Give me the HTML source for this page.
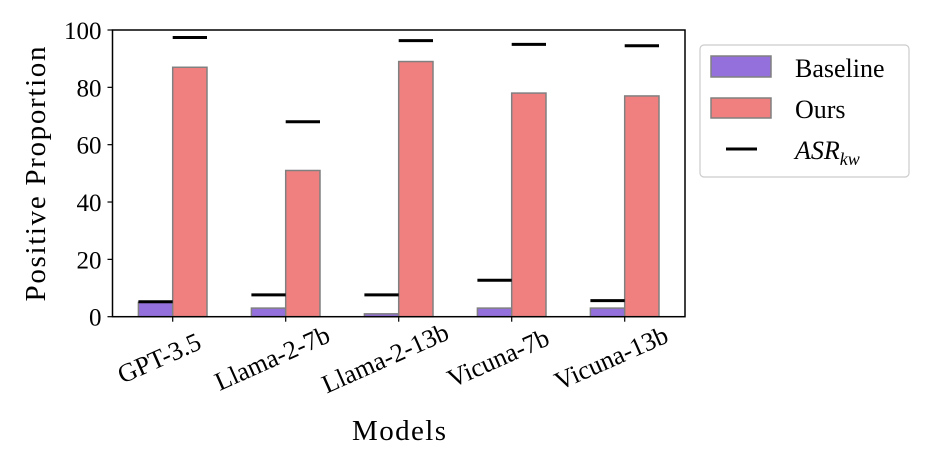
<!DOCTYPE html>
<html><head><meta charset="utf-8"><style>
html,body{margin:0;padding:0;background:#fff;}
svg{display:block;font-family:"Liberation Serif","DejaVu Serif",serif;}
</style></head><body>
<svg id="chart" width="930" height="465" viewBox="0 0 930 465">
<g id="plot"></g>
<g id="legend">
  <rect x="700" y="45" width="209" height="132" rx="4" fill="#fff" stroke="#ccc" stroke-width="1.2"/>
  <rect x="711" y="56" width="60" height="21" fill="#9370db" stroke="#808080" stroke-width="1.5"/>
  <text x="795" y="77" font-size="26">Baseline</text>
  <rect x="711" y="98" width="60" height="20" fill="#f08080" stroke="#808080" stroke-width="1.5"/>
  <text x="795" y="118" font-size="26">Ours</text>
  <line x1="726" y1="149" x2="757" y2="149" stroke="#000" stroke-width="3"/>
  <text x="795" y="159" font-size="26" font-style="italic">ASR<tspan font-size="18" dy="6">kw</tspan></text>
</g>
</svg>
<script>
const categories = ["GPT-3.5","Llama-2-7b","Llama-2-13b","Vicuna-7b","Vicuna-13b"];
const baselineValues = [5, 3, 1, 3, 3];
const oursValues = [87, 51, 89, 78, 77];
const baselineAsr = [5.2, 7.6, 7.6, 12.7, 5.6];
const oursAsr = [97.4, 68, 96.3, 95, 94.5];
const yTicks = [0, 20, 40, 60, 80, 100];

const NS = "http://www.w3.org/2000/svg";
const L = 112.5, R = 685, T = 30, B = 316.7;
const step = 113, x0 = 172.7, bw = 34.3;
const xPos = i => x0 + i * step;
const yPos = v => B - (v / 100) * (B - T);
const g = document.getElementById("plot");
function mk(tag, attrs, parent) {
  const e = document.createElementNS(NS, tag);
  for (const k in attrs) e.setAttribute(k, attrs[k]);
  (parent || g).appendChild(e);
  return e;
}
categories.forEach((c, i) => {
  const xc = xPos(i);
  let r = mk("rect", {x: xc - bw, y: yPos(baselineValues[i]), width: bw, height: B - yPos(baselineValues[i]), fill: "#9370db", stroke: "#808080", "stroke-width": 1.5});
  
  
  r = mk("rect", {x: xc, y: yPos(oursValues[i]), width: bw, height: B - yPos(oursValues[i]), fill: "#f08080", stroke: "#808080", "stroke-width": 1.5});
  
  
  let m = mk("line", {x1: xc - bw, x2: xc, y1: yPos(baselineAsr[i]), y2: yPos(baselineAsr[i]), stroke: "#000", "stroke-width": 3});
  
  
  m = mk("line", {x1: xc, x2: xc + bw, y1: yPos(oursAsr[i]), y2: yPos(oursAsr[i]), stroke: "#000", "stroke-width": 3});
  
  
  const t = mk("line", {x1: xc, x2: xc, y1: B, y2: B + 5, stroke: "#000", "stroke-width": 1.2});
  
  
  const lx = xc - 10, ly = 366;
  const tx = mk("text", {x: lx, y: ly, "font-size": 26, "text-anchor": "middle", transform: `rotate(-24 ${lx} ${ly})`});
  tx.textContent = c;
  
  
});
yTicks.forEach(v => {
  const y = yPos(v);
  const t = mk("line", {x1: L - 5, x2: L, y1: y, y2: y, stroke: "#000", "stroke-width": 1.2});
  
  
  const tx = mk("text", {x: L - 11, y: y + 9, "font-size": 25, "text-anchor": "end"});
  tx.textContent = v;
  
  
});
const ax = mk("rect", {x: L, y: T, width: R - L, height: B - T, fill: "none", stroke: "#000", "stroke-width": 1.5});


const yl = mk("text", {x: 0, y: 0, "font-size": 29, "text-anchor": "middle", textLength: 255, transform: "translate(45 174) rotate(-90)"});
yl.textContent = "Positive Proportion";


const xl = mk("text", {x: 399, y: 440, "font-size": 29, "text-anchor": "middle", textLength: 94});
xl.textContent = "Models";


</script>
</body></html>
